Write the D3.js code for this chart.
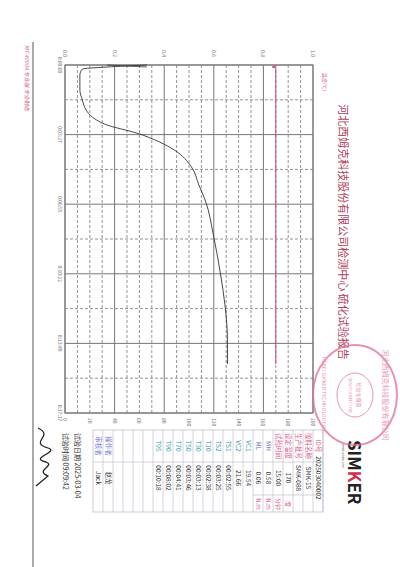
<!DOCTYPE html>
<html>
<head>
<meta charset="utf-8">
<script src="https://cdn.jsdelivr.net/npm/d3@7"></script>
<style>
body{margin:0;background:#fff;}
text{font-family:"Noto Sans CJK SC","DejaVu Serif",serif;}
</style>
</head>
<body>
<script>
// 数据（秒, 扭矩N.m / 温度℃）
var timeSec = [0, 6, 12, 30, 75, 104, 134, 155, 179, 203, 229, 253, 304, 358, 402, 513, 614, 715, 820, 891];
var torque = [0.33, 0.17, 0.07, 0.06, 0.06, 0.07, 0.085, 0.11, 0.17, 0.29, 0.38, 0.44, 0.51, 0.54, 0.565, 0.60, 0.625, 0.645, 0.655, 0.655];
var tempTime = [0, 3, 6, 9, 12, 891];
var tempVal = [170, 170, 167, 170, 170, 170];
var torqueTicks = [0.0, 0.2, 0.4, 0.6, 0.8, 1.0];
var timeTicks = [0, 207, 415, 622, 829, 1037];
var timeLabels = ["0:00:00", "0:03:27", "0:06:55", "0:10:22", "0:13:49", "0:17:17"];
var tempTicks = [0, 20, 40, 60, 80, 100, 120, 140, 160, 180, 200];
var rowLabels = ["ID号", "胶料名称", "生产批号", "设定温度", "试验时间", "MH", "ML", "VC1", "VC2", "TS1", "TS2", "T10", "T30", "T50", "T70", "T90", "T95", "", "", "", "", "操作者", "审核者"];
var rowValues = ["202503040002", "SMK-15", "SMK-088", "170", "15:00", "0.58", "0.06", "19.54", "21.66", "00:02:55", "00:03:25", "00:02:38", "00:03:13", "00:03:46", "00:04:41", "00:08:02", "00:10:18", "", "", "", "", "赵龙", "Jack"];
var rowUnits = ["", "", "", "度", "分钟", "N.m", "N.m", "", "", "", "", "", "", "", "", "", "", "", "", "", "", "", ""];

var svg = d3.select("body").append("svg").attr("width", 400).attr("height", 567);
// 整页顺时针旋转90度
var g = svg.append("g").attr("transform", "translate(400,0) rotate(90)");

var x = d3.scaleLinear().domain([0, 1037]).range([65, 413]);
var y = d3.scaleLinear().domain([0, 1.0]).range([335, 87]);
var yT = d3.scaleLinear().domain([0, 200]).range([335, 87]);
var grey = "#777", pink = "#d9608a";

//网格
for (var i = 0; i <= 10; i++) {
    var t = 1037 * i / 10;
    g.append("line").attr("x1", x(t)).attr("x2", x(t)).attr("y1", 87).attr("y2", 335)
        .attr("stroke", grey).attr("stroke-width", i % 2 == 0 ? 1 : 0.8).attr("stroke-dasharray", i % 2 == 0 ? null : "3,2");
}
for (var i = 0; i <= 20; i++) {
    var v = i / 20;
    g.append("line").attr("y1", y(v)).attr("y2", y(v)).attr("x1", 65).attr("x2", 413)
        .attr("stroke", grey).attr("stroke-width", i % 4 == 0 ? 1 : 0.8).attr("stroke-dasharray", i % 4 == 0 ? null : "3,2");
}
g.append("rect").attr("x", 65).attr("y", 87).attr("width", 348).attr("height", 248).attr("fill", "none").attr("stroke", grey);

//刻度
g.selectAll("text.ty").data(torqueTicks).enter().append("text")
    .attr("x", 57).attr("y", function (d) { return y(d) + 2; }).attr("text-anchor", "end")
    .attr("font-size", 5).attr("fill", grey).text(function (d) { return d.toFixed(1); });
g.selectAll("text.tx").data(timeTicks).enter().append("text")
    .attr("x", function (d) { return x(d); }).attr("y", 342).attr("text-anchor", "middle")
    .attr("font-size", 5).attr("fill", grey).text(function (d, i) { return timeLabels[i]; });
g.selectAll("text.tt").data(tempTicks).enter().append("text")
    .attr("x", 418).attr("y", function (d) { return yT(d) + 2; }).attr("text-anchor", "start")
    .attr("font-size", 5).attr("fill", grey).text(function (d) { return d; });
g.append("text").attr("x", 82).attr("y", 77).attr("text-anchor", "middle").attr("font-size", 5).attr("fill", pink).text("温度(℃)");

//曲线
var line = d3.line().curve(d3.curveMonotoneX);
g.append("path").attr("d", line(tempTime.map(function (d, i) { return [x(d), yT(tempVal[i])]; })))
    .attr("fill", "none").attr("stroke", "#d0407a").attr("stroke-width", 1);
g.append("path").attr("d", line(timeSec.map(function (d, i) { return [x(d), y(torque[i])]; })))
    .attr("fill", "none").attr("stroke", "#333").attr("stroke-width", 0.9);
g.append("line").attr("x1", x(0)).attr("x2", x(0) + 2).attr("y1", y(0.17)).attr("y2", y(0.33)).attr("stroke", "#333").attr("stroke-width", 0.8);

//标题
g.append("text").attr("x", 232).attr("y", 61).attr("text-anchor", "middle").attr("font-size", 11)
    .attr("fill", "#b0405e").text("河北西姆克科技股份有限公司检测中心  硫化试验报告");

//左侧
g.append("line").attr("x1", 42).attr("x2", 567).attr("y1", 367).attr("y2", 367).attr("stroke", "#555");
g.append("text").attr("x", 45).attr("y", 375).attr("font-size", 5.5).attr("fill", pink).attr("font-style", "italic")
    .text("MT-4000A    专业版    专业制造");

//表格
var tx0 = 430, rowH = 10, tableTop = 77;
rowLabels.forEach(function (d, i) {
    var yy = tableTop + i * rowH;
    g.append("line").attr("x1", tx0).attr("x2", 512).attr("y1", yy).attr("y2", yy).attr("stroke", "#aab").attr("stroke-width", 0.5);
    var c = i < 5 ? pink : (i < 21 ? "#3a9ab0" : "#7a7ad0");
    if (i == 5 || i == 6) c = "#6060c0";
    g.append("text").attr("x", 446).attr("y", yy + 7.5).attr("text-anchor", "middle").attr("font-size", 6.5).attr("fill", c).text(d);
    g.append("text").attr("x", 478).attr("y", yy + 7.5).attr("text-anchor", "middle").attr("font-size", 6.5).attr("fill", "#333").text(rowValues[i]);
    g.append("text").attr("x", 504).attr("y", yy + 7.5).attr("text-anchor", "middle").attr("font-size", 6).attr("fill", pink).text(rowUnits[i]);
});
var bottom = tableTop + rowLabels.length * rowH;
g.append("rect").attr("x", tx0).attr("y", tableTop).attr("width", 82).attr("height", bottom - tableTop).attr("fill", "none").attr("stroke", "#aab").attr("stroke-width", 0.6);
g.append("line").attr("x1", 462).attr("x2", 462).attr("y1", tableTop).attr("y2", bottom).attr("stroke", "#aab").attr("stroke-width", 0.5);
g.append("line").attr("x1", 495).attr("x2", 495).attr("y1", tableTop).attr("y2", tableTop + 7 * rowH).attr("stroke", "#aab").attr("stroke-width", 0.5);
g.append("text").attr("x", 433).attr("y", 325).attr("font-size", 7).attr("fill", "#333").text("试验日期   2025-03-04");
g.append("text").attr("x", 433).attr("y", 337).attr("font-size", 7).attr("fill", "#333").text("试验时间   09:09:42");

//签名
g.append("path").attr("d", "M428,362 C436,345 442,372 448,352 C452,340 458,372 462,354 C466,344 470,366 476,352 L486,364")
    .attr("fill", "none").attr("stroke", "#222").attr("stroke-width", 1.3);

//logo
g.append("text").attr("x", 440).attr("y", 52).attr("font-size", 17).attr("font-weight", "bold").attr("font-family", "DejaVu Sans")
    .attr("fill", "#222").text("SIM").append("tspan").attr("fill", "#d03050").text("K").append("tspan").attr("fill", "#222").text("ER");
g.append("text").attr("x", 444).attr("y", 58).attr("font-size", 3).attr("fill", "#555").text("www.simker.com");

//印章
var st = g.append("g").attr("opacity", 0.75);
st.append("ellipse").attr("cx", 395).attr("cy", 45).attr("rx", 50).attr("ry", 42).attr("fill", "none").attr("stroke", "#e07090").attr("stroke-width", 2);
st.append("ellipse").attr("cx", 395).attr("cy", 45).attr("rx", 22).attr("ry", 18).attr("fill", "none").attr("stroke", "#e07090").attr("stroke-width", 1);
st.append("text").attr("x", 395).attr("y", 43).attr("text-anchor", "middle").attr("font-size", 5).attr("fill", "#e07090").text("检验专用章");
st.append("text").attr("x", 395).attr("y", 51).attr("text-anchor", "middle").attr("font-size", 3.5).attr("fill", "#e07090").text("QUALITY INSPECTION");
st.append("text").attr("x", 395).attr("y", 17).attr("text-anchor", "middle").attr("font-size", 7).attr("fill", "#e07090").text("河北西姆克科技股份有限公司");
st.append("text").attr("x", 395).attr("y", 78).attr("text-anchor", "middle").attr("font-size", 5).attr("fill", "#e07090").text("HEBEI SIMKER TECHNOLOGY CO.");
</script>
</body>
</html>
